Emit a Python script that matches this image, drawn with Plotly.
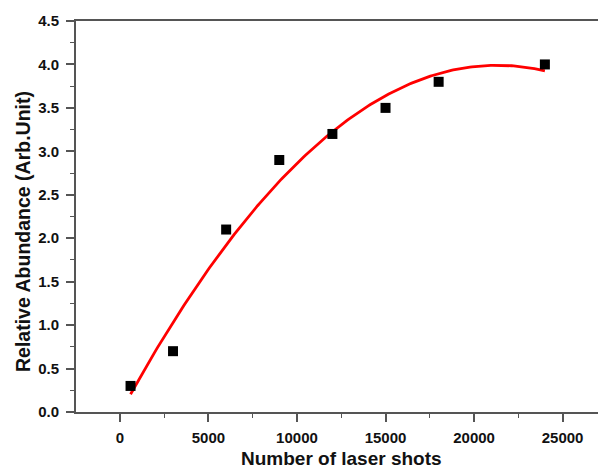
import numpy as np
import plotly.graph_objects as go

shots = [600, 3000, 6000, 9000, 12000, 15000, 18000, 24000]
abundance = [0.3, 0.7, 2.1, 2.9, 3.2, 3.5, 3.8, 4.0]
x_ticks = [0, 5000, 10000, 15000, 20000, 25000]
y_ticks = [0.0, 0.5, 1.0, 1.5, 2.0, 2.5, 3.0, 3.5, 4.0, 4.5]

coef = np.polyfit(shots, abundance, 2)
xf = np.linspace(min(shots), max(shots), 200)
yf = np.polyval(coef, xf)

fig = go.Figure()
fig.add_trace(go.Scatter(x=xf, y=yf, mode="lines",
                         line=dict(color="#ff0000", width=2.8), showlegend=False))
fig.add_trace(go.Scatter(x=shots, y=abundance, mode="markers",
                         marker=dict(symbol="square", size=10, color="black"),
                         showlegend=False))

fam = "Liberation Sans, Arial"
axfont = dict(family=fam, size=15, color="#111")
fig.update_layout(
    width=598, height=470,
    margin=dict(l=76, r=0, t=21, b=58),
    paper_bgcolor="white", plot_bgcolor="white",
    font=dict(family=fam, color="#111"),
    xaxis=dict(range=[-2480, 27000], tickvals=x_ticks,
               ticktext=[f"<b>{v}</b>" for v in x_ticks],
               ticks="outside", ticklen=8, tickwidth=1.5, tickcolor="#555",
               showline=True, linecolor="#555", linewidth=2, mirror=True,
               showgrid=False, zeroline=False, tickfont=axfont,
               ticklabelstandoff=3,
               minor=dict(ticks="outside", ticklen=4, tickwidth=1.2,
                          tickcolor="#555", dtick=2500, tick0=0)),
    yaxis=dict(range=[0, 4.5], tickvals=y_ticks,
               ticktext=[f"<b>{v:.1f}</b>" for v in y_ticks],
               ticks="outside", ticklen=8, tickwidth=1.5, tickcolor="#555",
               showline=True, linecolor="#555", linewidth=2, mirror=False,
               showgrid=False, zeroline=False, tickfont=axfont,
               ticklabelstandoff=4,
               minor=dict(ticks="outside", ticklen=4, tickwidth=1.2,
                          tickcolor="#555", dtick=0.25, tick0=0)),
    annotations=[
        dict(text="<b>Number of laser shots</b>", xref="paper", yref="paper",
             x=0.5077, y=-0.148, xanchor="center", yanchor="bottom",
             borderpad=0,
             showarrow=False, font=dict(size=19, family=fam, color="#111")),
        dict(text="<b>Relative Abundance (Arb.Unit)</b>", xref="paper", yref="paper",
             x=-0.1015, y=0.4604, xanchor="center", yanchor="middle",
             textangle=-90, showarrow=False,
             font=dict(size=19.5, family=fam, color="#111")),
    ],
)
fig.write_html("out.html")
